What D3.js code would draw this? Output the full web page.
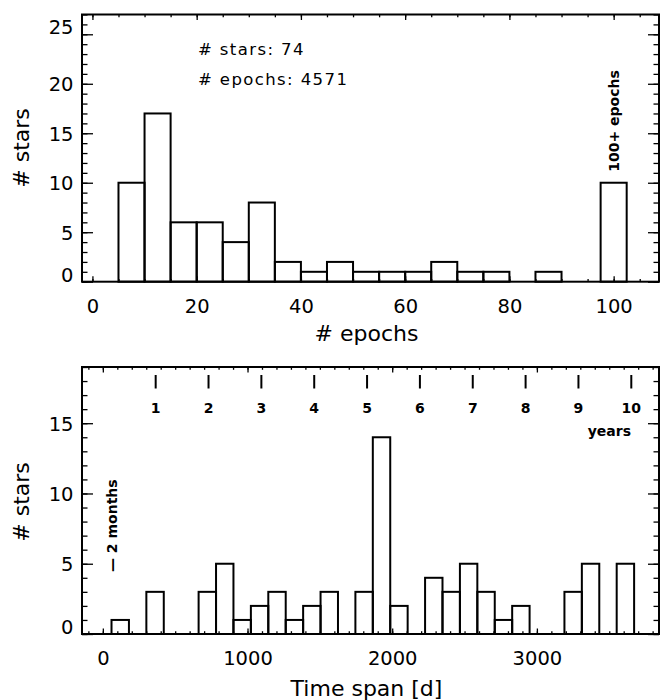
<!DOCTYPE html>
<html>
<head>
<meta charset="utf-8">
<script src="https://cdn.jsdelivr.net/npm/d3@7"></script>
<style>
  body { margin: 0; background: #fff; }
  text { font-family: "DejaVu Sans", sans-serif; fill: #000; }
</style>
</head>
<body>
<div id="chart"></div>
<script>
// top panel: number of epochs per star (5-wide bins, last bar = 100+)
const epochBinStarts = [5, 10, 15, 20, 25, 30, 35, 40, 45, 50, 55, 60, 65, 70, 75, 80, 85, 90, 97.5];
const epochCounts    = [10, 17, 6, 6, 4, 8, 2, 1, 2, 1, 1, 1, 2, 1, 1, 0, 1, 0, 10];
const epochBinWidth = 5;
const epochTicks = [0, 20, 40, 60, 80, 100];
const starTicksTop = [0, 5, 10, 15, 20, 25];
const infoLines = ["# stars: 74", "# epochs: 4571"];

// bottom panel: time span covered per star, in days
const spanCounts = [1, 0, 3, 0, 0, 3, 5, 1, 2, 3, 1, 2, 3, 0, 3, 14, 2, 0, 4, 3, 5, 3, 1, 2, 0, 0, 3, 5, 0, 5];
const spanBinStart = 60;
const spanBinWidth = 120.4;
const spanTicks = [0, 1000, 2000, 3000];
const starTicksBottom = [0, 5, 10, 15];
const yearTicks = [1, 2, 3, 4, 5, 6, 7, 8, 9, 10];
const daysPerYear = 365.25;

const W = 662, H = 700;
const svg = d3.select("#chart").append("svg")
  .attr("width", W).attr("height", H);

function drawPanel(p) {
  const g = svg.append("g");
  const x = d3.scaleLinear().domain(p.xDomain).range([p.left, p.right]);
  const y = d3.scaleLinear().domain(p.yDomain).range([p.bottom, p.top]);
  const xMaj = 5.5, xMin = 2.8, yMaj = 11, yMin = 5.5;

  // bars
  g.append("g").selectAll("rect")
    .data(p.bins.filter(d => d.count > 0))
    .join("rect")
    .attr("x", d => x(d.x0))
    .attr("width", d => x(d.x1) - x(d.x0))
    .attr("y", d => y(d.count))
    .attr("height", d => y(0) - y(d.count))
    .attr("fill", "none")
    .attr("stroke", "#000")
    .attr("stroke-width", 2);

  // minor ticks on all four sides
  const tickStyle = sel => {
    sel.select(".domain").remove();
    sel.selectAll("line").attr("stroke", "#000").attr("stroke-width", 1.3);
  };
  g.append("g").attr("transform", `translate(0,${p.bottom})`)
    .call(d3.axisBottom(x).tickValues(p.xMinor).tickSize(-xMin).tickFormat("")).call(tickStyle);
  g.append("g").attr("transform", `translate(0,${p.top})`)
    .call(d3.axisTop(x).tickValues(p.xMinor).tickSize(-xMin).tickFormat("")).call(tickStyle);
  g.append("g").attr("transform", `translate(${p.left},0)`)
    .call(d3.axisLeft(y).tickValues(p.yMinor).tickSize(-yMin).tickFormat("")).call(tickStyle);
  g.append("g").attr("transform", `translate(${p.right},0)`)
    .call(d3.axisRight(y).tickValues(p.yMinor).tickSize(-yMin).tickFormat("")).call(tickStyle);

  // major ticks with labels
  const xAx = g.append("g").attr("transform", `translate(0,${p.bottom})`)
    .call(d3.axisBottom(x).tickValues(p.xTicks).tickSize(-xMaj).tickPadding(17).tickFormat(d3.format("d")))
    .call(tickStyle);
  xAx.selectAll("text").style("font-size", "19.5px");
  g.append("g").attr("transform", `translate(0,${p.top})`)
    .call(d3.axisTop(x).tickValues(p.xTicks).tickSize(-xMaj).tickFormat("")).call(tickStyle);
  const yAx = g.append("g").attr("transform", `translate(${p.left},0)`)
    .call(d3.axisLeft(y).tickValues(p.yTicks).tickSize(-yMaj).tickPadding(8.5).tickFormat(d3.format("d")))
    .call(tickStyle);
  yAx.selectAll("text").style("font-size", "19.5px")
    .attr("dy", d => (d === 0 || d === p.yTopLabel) ? "-0.02em" : "0.35em");
  g.append("g").attr("transform", `translate(${p.right},0)`)
    .call(d3.axisRight(y).tickValues(p.yTicks).tickSize(-yMaj).tickFormat("")).call(tickStyle);

  // frame
  g.append("rect")
    .attr("x", p.left).attr("y", p.top)
    .attr("width", p.right - p.left).attr("height", p.bottom - p.top)
    .attr("fill", "none").attr("stroke", "#000").attr("stroke-width", 2);

  // axis titles
  g.append("text")
    .attr("x", (p.left + p.right) / 2 - 4).attr("y", p.xTitleY)
    .attr("text-anchor", "middle").style("font-size", "22px")
    .text(p.xTitle);
  g.append("text")
    .attr("transform", `translate(21,${p.yTitleY}) rotate(-90)`)
    .attr("text-anchor", "middle").attr("dominant-baseline", "central")
    .style("font-size", "22px")
    .text("# stars");

  return { g, x, y };
}

// ---------- top panel ----------
const topPanel = drawPanel({
  left: 82, right: 659, top: 14.5, bottom: 281.7,
  xDomain: [-2, 108.7], yDomain: [0, 27],
  xTicks: epochTicks, xMinor: d3.range(0, 109, 5),
  yTicks: starTicksTop, yMinor: d3.range(0, 27.5, 1), yTopLabel: 25,
  bins: epochBinStarts.map((s, i) => ({ x0: s, x1: s + epochBinWidth, count: epochCounts[i] })),
  xTitle: "# epochs", xTitleY: 341, yTitleY: 148
});

topPanel.g.selectAll(".info").data(infoLines).join("text")
  .attr("class", "info")
  .attr("x", 198).attr("y", (d, i) => 55 + i * 29.5)
  .style("font-size", "16.5px").style("letter-spacing", "1.4px")
  .text(d => d);

topPanel.g.append("text")
  .attr("transform", `translate(${topPanel.x(100) + 5},${topPanel.y(10) - 11}) rotate(-90)`)
  .attr("text-anchor", "start")
  .style("font-size", "14px").style("font-weight", "bold")
  .text("100+ epochs");

// ---------- bottom panel ----------
const botPanel = drawPanel({
  left: 82, right: 659, top: 367, bottom: 634,
  xDomain: [-144, 3844], yDomain: [0, 19],
  xTicks: spanTicks, xMinor: d3.range(-100, 3845, 100),
  yTicks: starTicksBottom, yMinor: d3.range(0, 19.5, 1), yTopLabel: null,
  bins: spanCounts.map((c, i) => ({
    x0: spanBinStart + i * spanBinWidth,
    x1: spanBinStart + (i + 1) * spanBinWidth,
    count: c
  })),
  xTitle: "Time span [d]", xTitleY: 696, yTitleY: 502
});

// year markers along the top
const yrs = botPanel.g.append("g");
yrs.selectAll("line").data(yearTicks).join("line")
  .attr("x1", d => botPanel.x(d * daysPerYear)).attr("x2", d => botPanel.x(d * daysPerYear))
  .attr("y1", 375).attr("y2", 388.5)
  .attr("stroke", "#000").attr("stroke-width", 2);
yrs.selectAll("text").data(yearTicks).join("text")
  .attr("x", d => botPanel.x(d * daysPerYear)).attr("y", 413)
  .attr("text-anchor", "middle")
  .style("font-size", "14px").style("font-weight", "bold")
  .text(d => d);
yrs.append("text")
  .attr("x", 631).attr("y", 436)
  .attr("text-anchor", "end")
  .style("font-size", "14px").style("font-weight", "bold")
  .text("years");

botPanel.g.append("text")
  .attr("transform", `translate(117,572) rotate(-90)`)
  .attr("text-anchor", "start")
  .style("font-size", "14px").style("font-weight", "bold")
  .text("\u2014 2 months");
</script>
</body>
</html>
